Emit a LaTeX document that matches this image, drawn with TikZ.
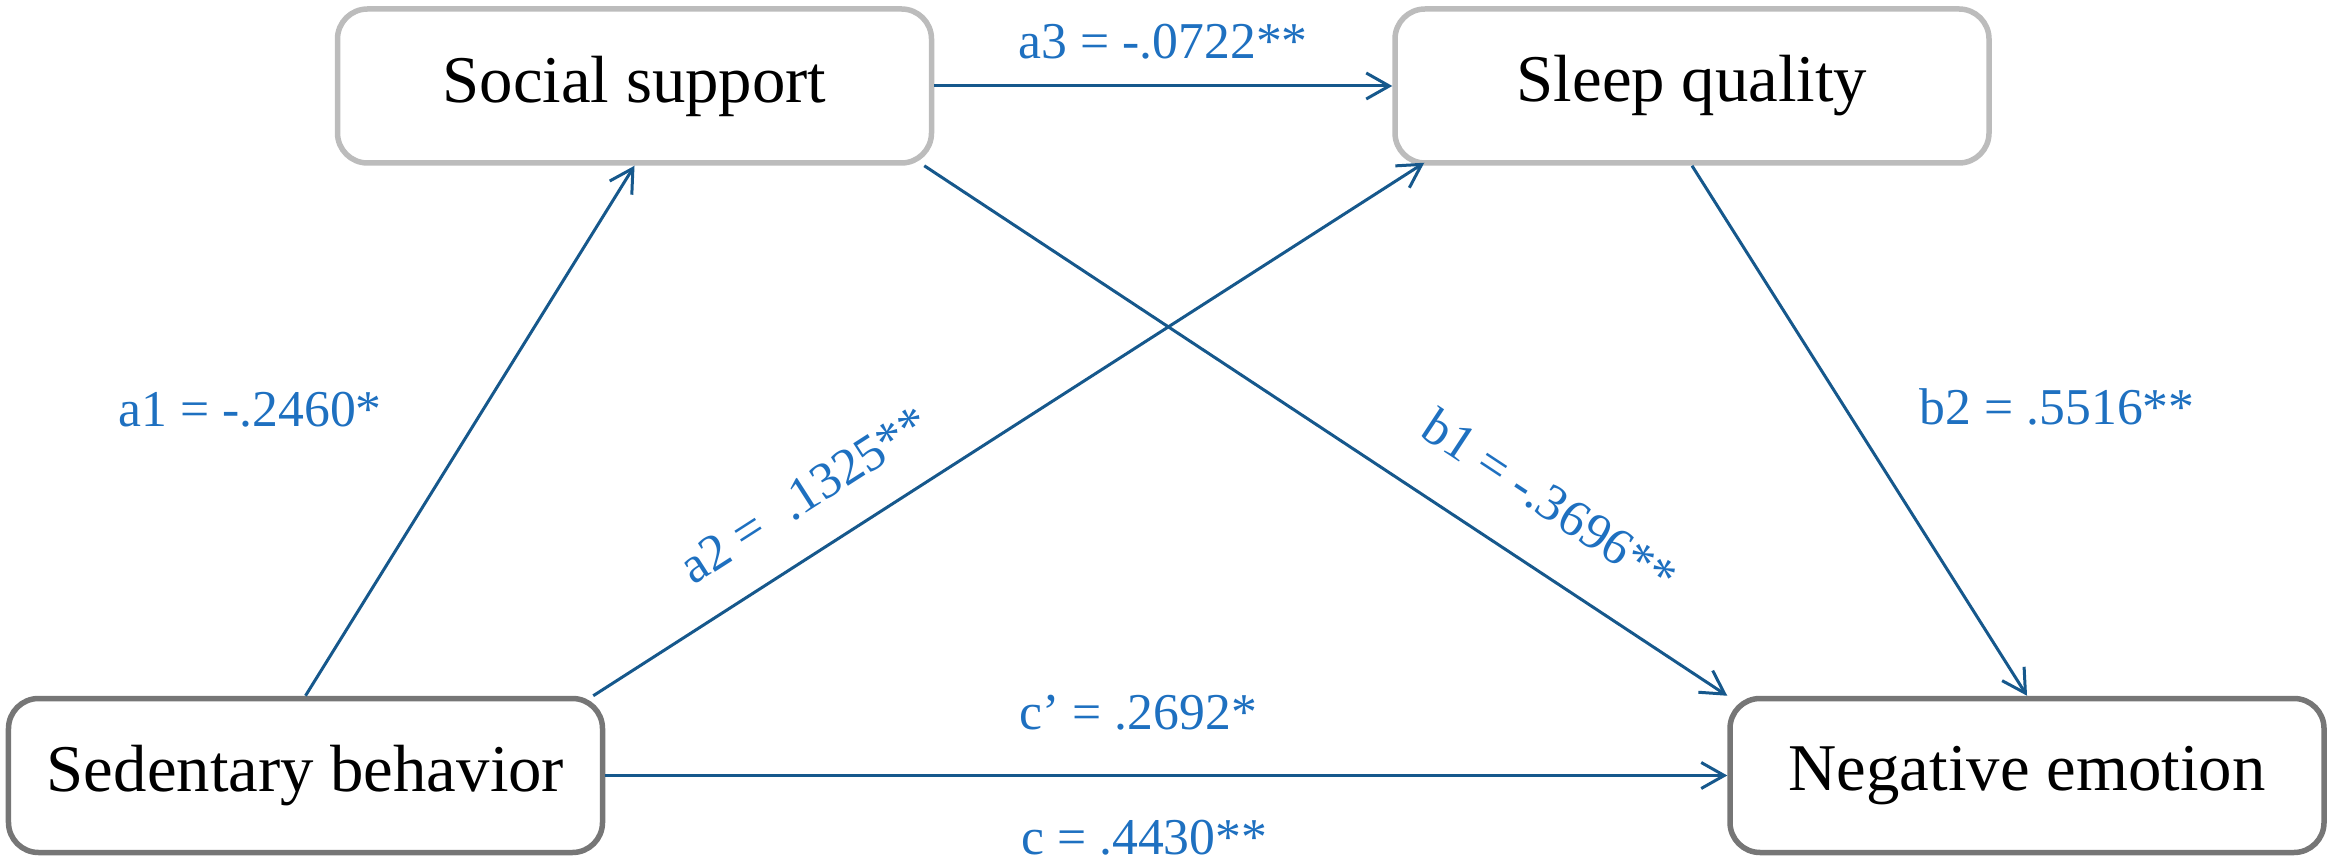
\documentclass[tikz,border=0pt]{standalone}
\usepackage{fontspec}
\setmainfont{Liberation Serif}
\usepackage{xcolor}
\usetikzlibrary{arrows.meta, positioning}
\definecolor{pathblue}{RGB}{22,88,140}
\definecolor{labelblue}{RGB}{30,112,192}
\definecolor{boxlight}{RGB}{188,188,188}
\definecolor{boxdark}{RGB}{118,118,118}
\tikzstyle{varbox} = [rectangle, rounded corners=0.3cm, 
minimum width=5.94cm, 
minimum height=1.54cm, 
text centered, 
line width=0.055cm, 
font=\fontsize{19}{23}\selectfont]
\tikzstyle{mediator} = [varbox, draw=boxlight]
\tikzstyle{endpoint} = [varbox, draw=boxdark]
\tikzstyle{coef} = [inner sep=0pt, text=labelblue, font=\fontsize{14.7}{18}\selectfont]
\tikzstyle{arrow} = [line width=0.03cm, draw=pathblue, -{Straight Barb[length=2.3mm, width=2.6mm]}]

\begin{document}
\begin{tikzpicture}
        \useasboundingbox (0,0) rectangle (23.33,8.63);

        % --- Variables ---
        \node (sed) [endpoint] at (3.055,0.875) {Sedentary behavior};
        \node (neg) [endpoint, right=11.22cm of sed] {Negative emotion};
        \node (soc) [mediator] at (6.345,7.77) {Social support};
        \node (sleep) [mediator, right=4.58cm of soc] {Sleep quality};

        % --- Paths a ---
        \draw [arrow] (sed.north) -- node[coef, pos=0.54, left=1.0cm] {a1 = -.2460*} (soc.south);
        \draw [arrow] ([xshift=-0.12cm]sed.north east) -- node[coef, pos=0.29, sloped, above=0.36cm] {a2 = \ .1325**} ([xshift=0.32cm, yshift=0.03cm]sleep.south west);
        \draw [arrow] (soc.east) -- node[coef, midway, above=0.25cm] {a3 = -.0722**} (sleep.west);

        % --- Paths b ---
        \draw [arrow] ([xshift=-0.1cm]soc.south east) -- node[coef, pos=0.735, sloped, above=0.45cm] {b1 = -.3696**} (neg.north west);
        \draw [arrow] (sleep.south) -- node[coef, pos=0.455, right=0.74cm] {b2 = .5516**} (neg.north);

        % --- Direct effect ---
        \draw [arrow] (sed.east) -- node[coef, midway, above=0.44cm, xshift=-0.28cm] {c’ = .2692*} node[coef, midway, below=0.43cm, xshift=-0.22cm] {c = .4430**} (neg.west);

\end{tikzpicture}
\end{document}
